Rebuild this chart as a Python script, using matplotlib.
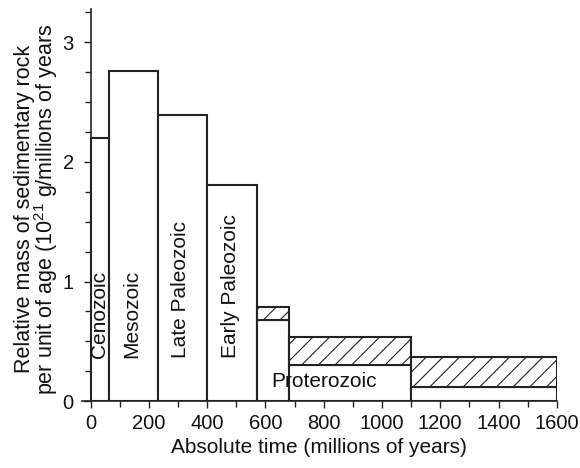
import numpy as np
import matplotlib
matplotlib.use("Agg")
import matplotlib.pyplot as plt
from matplotlib.ticker import MultipleLocator

plt.rcParams['font.family'] = ['Liberation Sans', 'DejaVu Sans']
plt.rcParams['hatch.linewidth'] = 0.8
plt.rcParams['hatch.color'] = '#333333'
plt.rcParams['mathtext.fontset'] = 'custom'
plt.rcParams['mathtext.rm'] = 'Liberation Sans'

# границы интервалов (млн лет) и высоты блоков
starts = [0, 65, 230, 400, 570, 680, 1100]
ends = [65, 230, 400, 570, 680, 1100, 1600]
base = [2.2, 2.76, 2.39, 1.81, 0.68, 0.30, 0.12]
# заштрихованная часть для протерозоя
hatch_start = [570, 680, 1100]
hatch_end = [680, 1100, 1600]
hatch_top = [0.79, 0.54, 0.37]

era_names = ["Cenozoic", "Mesozoic", "Late Paleozoic", "Early Paleozoic"]
era_x = [30, 141, 310, 482]

fig = plt.figure(figsize=(5.8, 4.68), dpi=100)
ax = fig.add_axes([0.141, 0.143, 0.819, 0.838])

widths = np.array(ends) - np.array(starts)
ax.bar(starts, base, width=widths, align='edge', color='white',
       edgecolor='#222222', linewidth=1.5, zorder=2)

hw = np.array(hatch_end) - np.array(hatch_start)
hb = np.array(base[4:])
ax.bar(hatch_start, np.array(hatch_top) - hb, bottom=hb, width=hw,
       align='edge', color='white', edgecolor='#222222', hatch='//',
       linewidth=1.5, zorder=2)

for name, x in zip(era_names, era_x):
    ax.text(x, 0.36, name, rotation=90, ha='center', va='bottom',
            fontsize=15, color='#111111', zorder=3)
ax.text(801, 0.16, "Proterozoic", ha='center', va='center',
        fontsize=15, color='#111111', zorder=3)

ax.set_xlim(-30, 1600)
ax.set_ylim(0, 3.28)
ax.spines['left'].set_position(('data', 0))
ax.spines['top'].set_visible(False)
ax.spines['right'].set_visible(False)
for s in ('left', 'bottom'):
    ax.spines[s].set_linewidth(1.2)
    ax.spines[s].set_color('#222222')

ax.xaxis.set_major_locator(MultipleLocator(200))
ax.xaxis.set_minor_locator(MultipleLocator(100))
ax.yaxis.set_major_locator(MultipleLocator(1))
ax.yaxis.set_minor_locator(MultipleLocator(0.25))
ax.tick_params(which='both', direction='out', width=1.0, color='#222222',
               labelsize=14.5, labelcolor='#111111')
ax.tick_params(which='major', length=5)
ax.tick_params(which='minor', length=4.5)
ax.tick_params(axis='y', which='both', pad=7)
ax.tick_params(axis='x', which='both', pad=4)

ax.set_xlabel("Absolute time (millions of years)", fontsize=15,
              color='#111111', labelpad=4)
ax.set_ylabel("Relative mass of sedimentary rock\n"
              "per unit of age (10$^{21}$ g/millions of years",
              fontsize=15.5, color='#111111', linespacing=0.85)
ax.yaxis.set_label_coords(-0.046, 0.49)

fig.savefig("out.png", dpi=100)
